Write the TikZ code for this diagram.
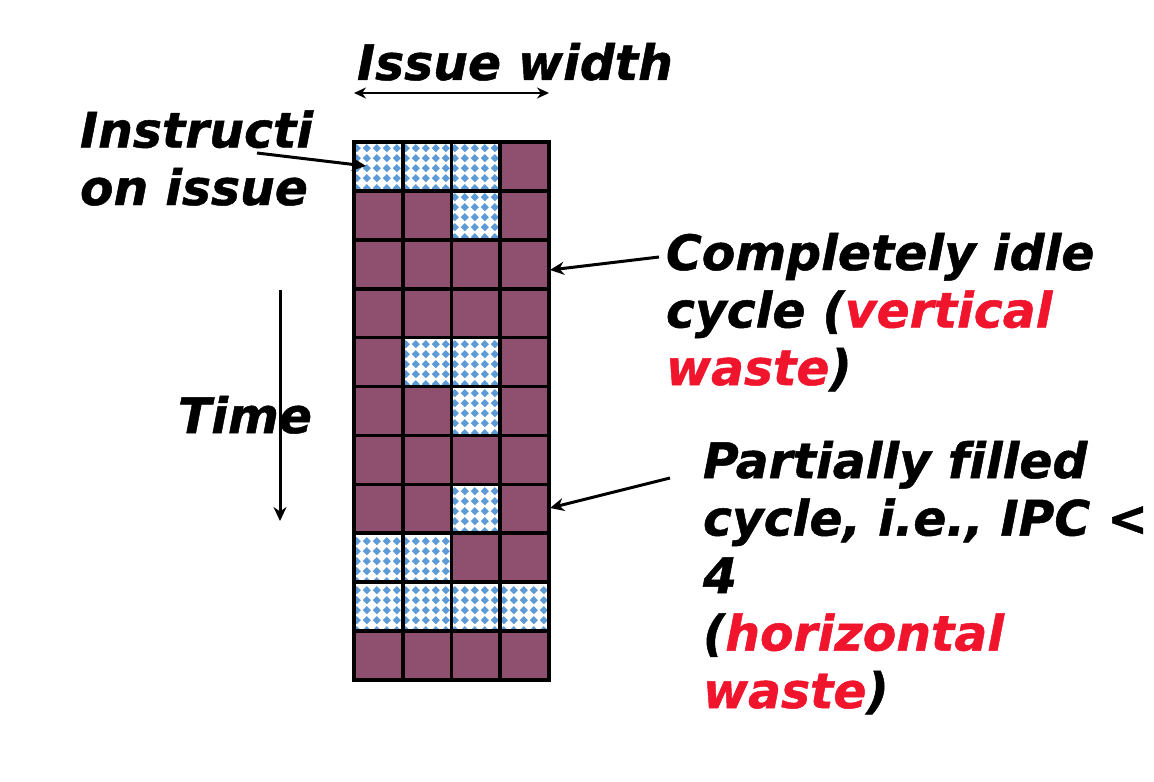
\documentclass[tikz,border=0pt]{standalone}
\usepackage{fontspec}
\setmainfont{DejaVu Sans}[Ligatures=NoCommon, BoldItalicFeatures={FakeBold=1}]
\usetikzlibrary{patterns,arrows.meta}
\definecolor{idlecol}{RGB}{143,80,112}
\definecolor{dotblue}{RGB}{93,155,215}
\definecolor{hot}{RGB}{240,20,45}
\pgfdeclarepatternformonly{diamonds}{\pgfpointorigin}{\pgfpoint{4.9pt}{4.9pt}}{\pgfpoint{4.9pt}{4.9pt}}{%
  \pgfpathmoveto{\pgfpoint{2.45pt}{0.4pt}}%
  \pgfpathlineto{\pgfpoint{4.5pt}{2.45pt}}%
  \pgfpathlineto{\pgfpoint{2.45pt}{4.5pt}}%
  \pgfpathlineto{\pgfpoint{0.4pt}{2.45pt}}%
  \pgfpathclose\pgfusepath{fill}}
\tikzset{
  lbl/.style={font=\fontsize{24.4}{28.75}\selectfont\bfseries\itshape, inner sep=0pt, outer sep=0pt, align=left, anchor=base west},
  cell/.style={draw=black, line width=1.8pt, minimum width=24.375pt, minimum height=24.45pt, inner sep=0pt, outer sep=0pt},
  idle/.style={fill=idlecol},
  busy/.style={preaction={fill=white}, pattern=diamonds, pattern color=dotblue},
  ptr/.style={line width=1.5pt, -{Stealth[length=7pt,width=6.5pt]}},
  dbl/.style={line width=1.2pt, {Stealth[length=6pt,width=5.5pt]}-{Stealth[length=6pt,width=5.5pt]}}
}
\begin{document}
\begin{tikzpicture}[x=0.5pt,y=-0.5pt]
\useasboundingbox (0,0) rectangle (1154,781);
% grid
\foreach \r in {1,...,11}
  \foreach \c in {1,...,4}
    \node[cell,idle] (c\r-\c) at ({354+(\c-0.5)*48.75},{142+(\r-0.5)*48.9}) {};
\foreach \r/\c in {1/1,1/2,1/3,2/3,5/2,5/3,6/3,8/3,9/1,9/2,10/1,10/2,10/3,10/4}
  \node[cell,busy] (b\r-\c) at (c\r-\c) {};
% labels (multi-line nodes are placed by the baseline of their last line)
\node[lbl] (iw) at (357,80) {Issue width};
\node[lbl] (ii) at (80,205) {Instructi\\on issue};
\node[lbl] (time) at (178,433) {Time};
\node[lbl] (idle) at (666,385) {Completely idle\\cycle (\textcolor{hot}{vertical}\\\textcolor{hot}{waste})};
\node[lbl] (part) at (703,708) {Partially filled\\cycle, i.e., IPC <\\4\\(\textcolor{hot}{horizontal}\\\textcolor{hot}{waste})};
% connectors
\coordinate (iwl) at (354,93);
\coordinate (iwr) at (549,93);
\draw[dbl] (iwl) -- (iwr);
\coordinate (iia) at (257,153);
\coordinate (iib) at (366,166);
\draw[ptr] (iia) -- (iib);
\coordinate (ta) at (280,290);
\coordinate (tb) at (280,521);
\draw[ptr] (ta) -- (tb);
\coordinate (ida) at (659,257);
\coordinate (idb) at (550,270);
\draw[ptr] (ida) -- (idb);
\coordinate (pa) at (670,478);
\coordinate (pb) at (550,508);
\draw[ptr] (pa) -- (pb);
\end{tikzpicture}
\end{document}
